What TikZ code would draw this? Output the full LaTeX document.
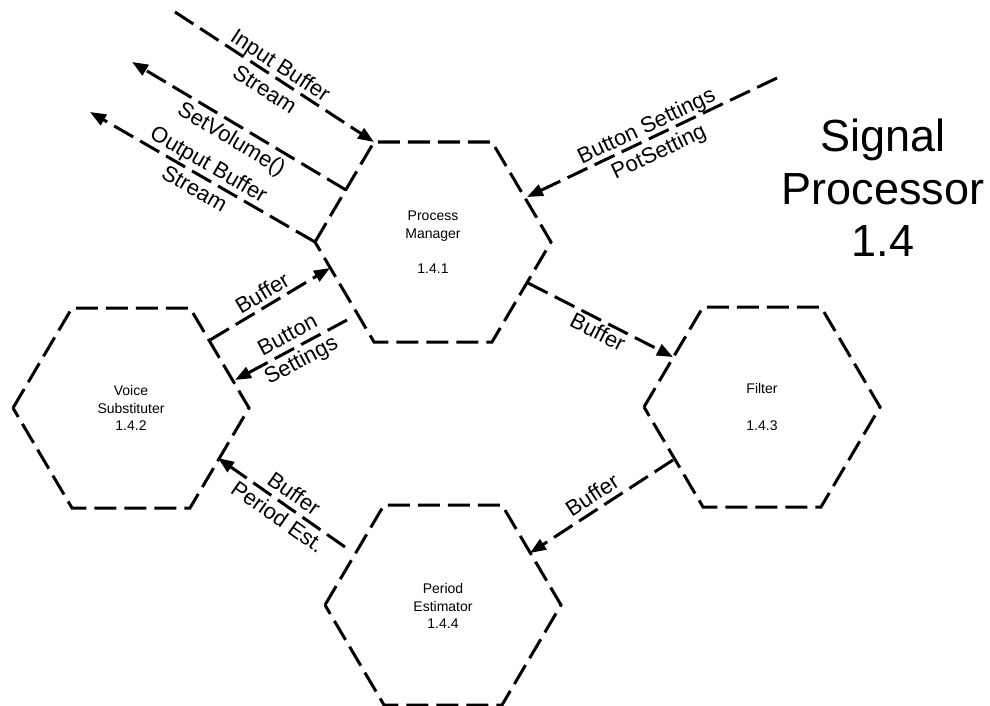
\documentclass[tikz,border=0pt]{standalone}
\usepackage{fontspec}
\setmainfont{Liberation Sans}
\usetikzlibrary{arrows.meta}

\begin{document}
\begin{tikzpicture}[x=1pt,y=-1pt,
  dashline/.style={line width=3pt, dash pattern=on 22pt off 8pt},
  flow/.style={dashline, -{Triangle[length=16pt,width=12pt]}},
  proc/.style={font=\fontsize{14}{17.5}\selectfont, align=center, inner sep=0pt},
  lbl/.style={font=\fontsize{22}{28.5}\selectfont, align=center, inner sep=0pt},
  heading/.style={font=\fontsize{45}{52.5}\selectfont, align=center, inner sep=0pt},
  hexcell/.pic={\draw[dashline] (-118,0) -- (-59,-100) -- (59,-100) -- (118,0)
                 -- (59,100) -- (-59,100) -- cycle;}]
\useasboundingbox (0,0) rectangle (990,706);

% process hexagons
\pic at (433,242) {hexcell};
\pic at (131,408) {hexcell};
\pic at (762,407) {hexcell};
\pic at (443,605) {hexcell};

\node[proc] (pm) at (433,242) {Process\\Manager\\[17.5pt]1.4.1};
\node[proc] (vs) at (131,408) {Voice\\Substituter\\1.4.2};
\node[proc] (flt) at (762,407) {Filter\\[19pt]1.4.3};
\node[proc] (pe) at (443,606) {Period\\Estimator\\1.4.4};

\node[heading] (title) at (883,188) {Signal\\Processor\\1.4};

% connector end points
\coordinate (inSrc) at (175,12);
\coordinate (pmTL) at (374,142);
\coordinate (volOut) at (346,190);
\coordinate (volEnd) at (132,62);
\coordinate (pmL) at (315,242);
\coordinate (outEnd) at (90,112);
\coordinate (btnSrc) at (777,78);
\coordinate (pmR) at (527,197);
\coordinate (vsBufOut) at (210,340);
\coordinate (pmBufIn) at (330,268);
\coordinate (pmBtnOut) at (347,320);
\coordinate (vsBtnIn) at (235,380);
\coordinate (pmBufOut) at (528,283);
\coordinate (fltIn) at (673,357);
\coordinate (fltOut) at (673,460);
\coordinate (peIn) at (530,553);
\coordinate (peOut) at (345,547);
\coordinate (vsIn) at (218,458);

% data flows
\draw[flow] (inSrc) -- (pmTL);
\draw[flow] (volOut) -- (volEnd);
\draw[flow] (pmL) -- (outEnd);
\draw[flow] (btnSrc) -- (pmR);
\draw[flow] (vsBufOut) -- (pmBufIn);
\draw[flow] (pmBtnOut) -- (vsBtnIn);
\draw[flow] (pmBufOut) -- (fltIn);
\draw[flow] (fltOut) -- (peIn);
\draw[flow] (peOut) -- (vsIn);

% flow labels
\node[lbl, rotate=-33.2] (lIn) at (273,77) {Input Buffer\\Stream};
\node[lbl, rotate=-30.9] (lVol) at (231,140) {SetVolume()};
\node[lbl, rotate=-30] (lOut) at (202,176) {Output Buffer\\Stream};
\node[lbl, rotate=25.4] (lBtn) at (653,140) {Button Settings\\PotSetting};
\node[lbl, rotate=31] (lBufA) at (262,293) {Buffer};
\node[lbl, rotate=28] (lBtnB) at (295,349) {Button\\Settings};
\node[lbl, rotate=-27] (lBufB) at (598,332) {Buffer};
\node[lbl, rotate=33] (lBufC) at (592,495) {Buffer};
\node[lbl, rotate=-35] (lBufD) at (286,505) {Buffer\\Period Est.};
\end{tikzpicture}
\end{document}
